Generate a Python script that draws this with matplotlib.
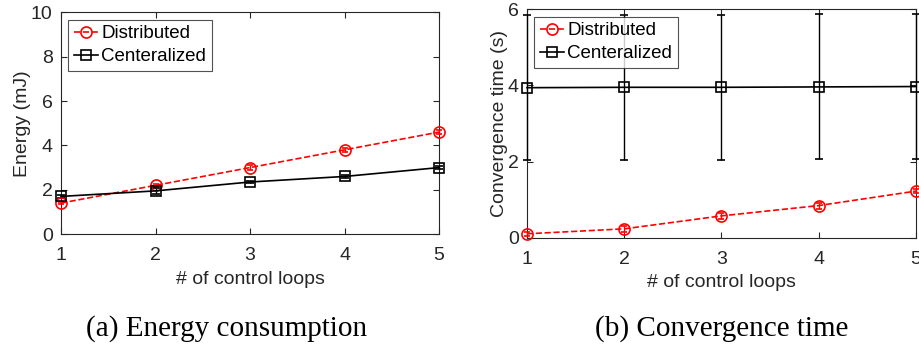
import matplotlib
matplotlib.use('Agg')
from matplotlib import pyplot as plt

loops = [1, 2, 3, 4, 5]

# energy (mJ)
energy_dist = [1.40, 2.20, 3.00, 3.80, 4.60]
energy_dist_err = [0.06, 0.08, 0.10, 0.10, 0.08]
energy_cent = [1.70, 1.95, 2.35, 2.60, 3.00]
energy_cent_err = [0.08, 0.15, 0.06, 0.08, 0.06]

# convergence time (s)
conv_dist = [0.11, 0.24, 0.58, 0.85, 1.23]
conv_dist_err = [0.05, 0.08, 0.08, 0.08, 0.05]
conv_cent = [3.94, 3.95, 3.95, 3.96, 3.97]
conv_cent_err = [1.90, 1.90, 1.90, 1.90, 1.90]

plt.rcParams['font.family'] = ['Liberation Sans', 'DejaVu Sans']
gray = '#262626'

fig = plt.figure(figsize=(9.2, 3.5), dpi=100)
ax1 = fig.add_axes([0.0663, 0.331, 0.411, 0.634])
ax2 = fig.add_axes([0.5728, 0.32, 0.4228, 0.654])


def draw(ax, dist, dist_err, cent, cent_err, ylim, yticks, ylabel):
    style_d = dict(color='red', ls='--', lw=1.2, marker='o', ms=8, mfc='none', mew=1.2)
    style_c = dict(color='black', ls='-', lw=1.2, marker='s', ms=7, mfc='none', mew=1.2)
    ax.errorbar(loops, dist, yerr=dist_err, capsize=2.5, elinewidth=1.0,
                clip_on=False, zorder=3, **style_d)
    ax.errorbar(loops, cent, yerr=cent_err, capsize=3, elinewidth=1.0,
                clip_on=False, zorder=3, **style_c)
    # handles for the legend (no error bars shown there)
    h1, = ax.plot([], [], label='Distributed', **style_d)
    h2, = ax.plot([], [], label='Centeralized', **style_c)
    ax.set_xlim(1, 5)
    ax.set_ylim(*ylim)
    ax.set_xticks(loops)
    ax.set_yticks(yticks)
    ax.tick_params(direction='in', top=True, right=True, labelsize=14,
                   colors=gray, length=4, width=0.8, pad=6)
    ax.tick_params(axis='x', pad=9)
    for s in ax.spines.values():
        s.set_color(gray)
        s.set_linewidth(0.8)
    ax.set_xlabel('# of control loops', fontsize=14, color=gray, labelpad=5)
    ax.set_ylabel(ylabel, fontsize=14, color=gray, labelpad=0)
    leg = ax.legend(handles=[h1, h2], loc='upper left', fontsize=13.5, frameon=True,
                    fancybox=False, edgecolor=gray, borderpad=0.3, handlelength=1.3,
                    handletextpad=0.15, labelspacing=0.3, borderaxespad=0.4)
    leg.get_frame().set_linewidth(0.8)


draw(ax1, energy_dist, energy_dist_err, energy_cent, energy_cent_err,
     (0, 10), [0, 2, 4, 6, 8, 10], 'Energy (mJ)')
draw(ax2, conv_dist, conv_dist_err, conv_cent, conv_cent_err,
     (0, 6), [0, 2, 4, 6], 'Convergence time (s)')

fig.text(0.246, 0.06, '(a) Energy consumption', ha='center', va='center',
         fontsize=21, family='Liberation Serif')
fig.text(0.784, 0.06, '(b) Convergence time', ha='center', va='center',
         fontsize=21, family='Liberation Serif')

fig.savefig('out.png', dpi=100)
plt.close()
